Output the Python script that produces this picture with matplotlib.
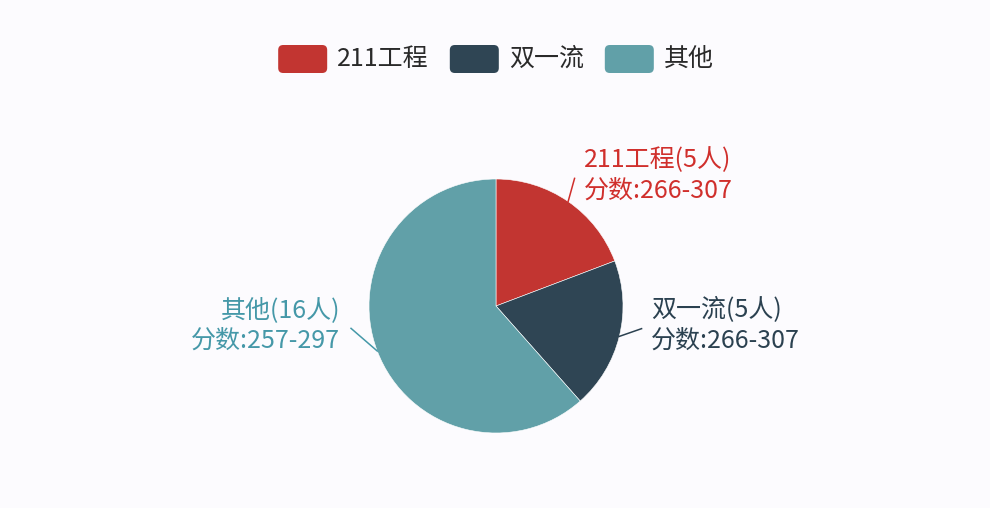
import matplotlib

matplotlib.use("Agg")
import matplotlib.pyplot as plt
import numpy as np
from matplotlib.patches import FancyBboxPatch

plt.rcParams["font.family"] = ["Noto Sans CJK SC", "DejaVu Sans"]

# 数据
categories = ["211工程", "双一流", "其他"]
counts = [5, 5, 16]
score_ranges = ["266-307", "266-307", "257-297"]
colors = ["#c23531", "#2f4554", "#61a0a8"]
label_colors = ["#d02f2c", "#2b4150", "#4598a8"]

# 引导线末端: 相对扇区中线的角度偏移(度)和半径
leader_shift = [3, 5, -12]
leader_len = [1.18, 1.16, 1.155]

BG = "#fcfbfe"
W, H = 990, 508
fig = plt.figure(figsize=(W / 100, H / 100), dpi=100, facecolor=BG)

# 饼图: 中心 (496, 306) 像素, 半径 127 像素
cx, cy, r = 496, 306, 127
ax = fig.add_axes([(cx - r) / W, (H - cy - r) / H, 2 * r / W, 2 * r / H])
ax.axis("off")

wedges, _ = ax.pie(counts, colors=colors, startangle=90, counterclock=False,
                   radius=1.0, center=(0, 0), frame=False,
                   wedgeprops=dict(edgecolor="white", linewidth=0.4))
ax.set_xlim(-1, 1)
ax.set_ylim(-1, 1)
ax.set_aspect("equal")

# 标签 + 引导线
for w, name, n, rng, c, sh, ln in zip(wedges, categories, counts, score_ranges,
                                      label_colors, leader_shift, leader_len):
    mid_deg = (w.theta1 + w.theta2) / 2
    mid = np.deg2rad(mid_deg)
    end = np.deg2rad(mid_deg + sh)
    x0, y0 = np.cos(mid), np.sin(mid)
    x1, y1 = ln * np.cos(end), ln * np.sin(end)
    ax.plot([x0, x1], [y0, y1], color=c, lw=1.1, clip_on=False)
    right = x1 >= 0
    ax.text(x1 + (0.075 if right else -0.085), y1 + 0.025, f"{name}({n}人)\n分数:{rng}",
            ha="left" if right else "right", va="center", color=c,
            fontsize=18, linespacing=1.2, clip_on=False)

# 图例 (圆角色块)
fig.canvas.draw()
renderer = fig.canvas.get_renderer()
box_w, box_h, gap, item_gap = 49, 28, 10, 21
ly = H - 59
texts = []
widths = []
for name in categories:
    t = fig.text(0, 0, name, fontsize=18, color="#2a2a2a", va="center")
    widths.append(t.get_window_extent(renderer).width)
    texts.append(t)
total = sum(box_w + gap + tw for tw in widths) + item_gap * (len(categories) - 1)
x = cx - total / 2
for t, tw, c in zip(texts, widths, colors):
    fig.patches.append(FancyBboxPatch((x / W, (ly - box_h / 2) / H), box_w / W, box_h / H,
                                      boxstyle=f"round,pad=0,rounding_size={5 / W}",
                                      transform=fig.transFigure, facecolor=c,
                                      edgecolor="none", mutation_aspect=W / H))
    t.set_position(((x + box_w + gap) / W, ly / H))
    x += box_w + gap + tw + item_gap

fig.savefig("out.png", dpi=100, facecolor=BG)
